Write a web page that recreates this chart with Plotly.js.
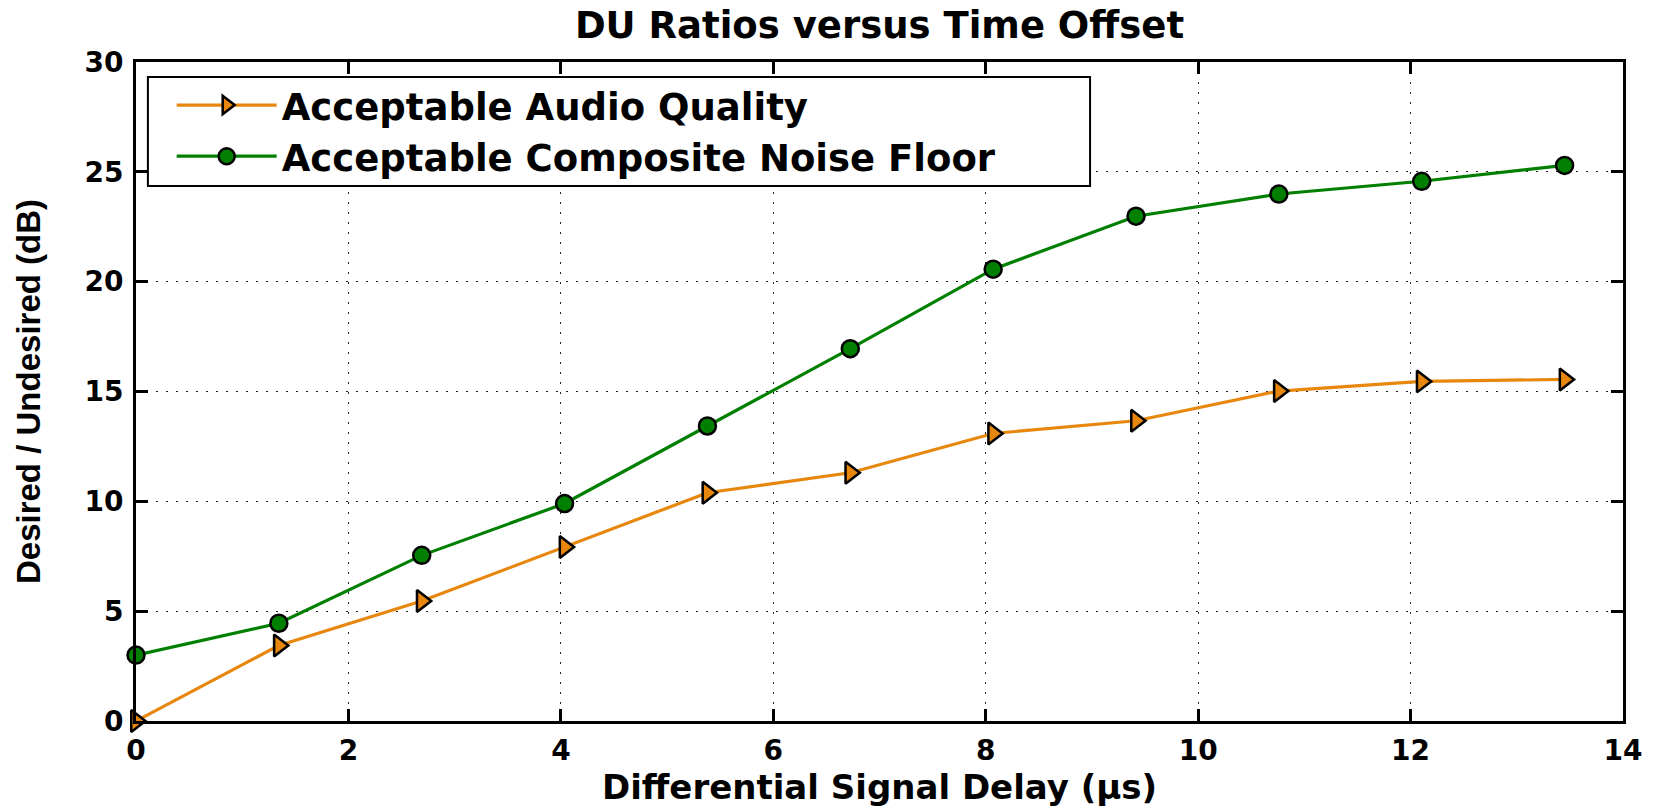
<!DOCTYPE html>
<html>
<head>
<meta charset="utf-8">
<script src="https://cdn.plot.ly/plotly-3.0.1.min.js"></script>
<style>html,body{margin:0;padding:0;background:#fff;}</style>
</head>
<body>
<div id="chart" style="width:1662px;height:807px;"></div>
<script>
// Data
var delayUs = [0, 1.345, 2.69, 4.035, 5.38, 6.725, 8.07, 9.415, 10.76, 12.105, 13.45];
var audioQuality = [0, 3.44, 5.46, 7.92, 10.39, 11.3, 13.09, 13.67, 15.02, 15.46, 15.55];
var compositeNoise = [3.0, 4.45, 7.54, 9.9, 13.43, 16.95, 20.57, 22.98, 23.99, 24.57, 25.29];
var seriesNames = ['Acceptable Audio Quality', 'Acceptable Composite Noise Floor'];
var xTicks = [0, 2, 4, 6, 8, 10, 12, 14];
var yTicks = [0, 5, 10, 15, 20, 25, 30];

var ORANGE = '#E8870E';
var GREEN = '#007F00';
var FONT = 'DejaVu Sans';

var traces = [
  {
    x: delayUs, y: audioQuality, name: seriesNames[0],
    type: 'scatter', mode: 'lines+markers', cliponaxis: false,
    line: {color: ORANGE, width: 3.2},
    marker: {symbol: 'triangle-right', size: 19, color: ORANGE, line: {color: 'black', width: 2.5}}
  },
  {
    x: delayUs, y: compositeNoise, name: seriesNames[1],
    type: 'scatter', mode: 'lines+markers', cliponaxis: false,
    line: {color: GREEN, width: 3.2},
    marker: {symbol: 'circle', size: 17, color: GREEN, line: {color: 'black', width: 2.5}}
  }
];

var axisCommon = {
  showline: true, linewidth: 3, linecolor: 'black', mirror: 'ticks',
  ticks: 'inside', ticklen: 12, tickwidth: 3, tickcolor: 'black',
  showgrid: true, gridcolor: '#222', gridwidth: 1.3, griddash: '1.5px,8.5px',
  zeroline: false,
  tickfont: {family: FONT, size: 28, weight: 'bold', color: 'black'}
};

var layout = {
  width: 1662, height: 807,
  margin: {l: 136, r: 39, t: 62, b: 86, pad: 0},
  paper_bgcolor: 'white', plot_bgcolor: 'white',
  showlegend: true,
  title: {
    text: 'DU Ratios versus Time Offset',
    font: {family: FONT, size: 37, weight: 'bold', color: 'black'},
    xref: 'paper', x: 0.5, xanchor: 'center',
    yref: 'container', y: 0.969, yanchor: 'middle'
  },
  xaxis: Object.assign({}, axisCommon, {
    range: [0, 14], tickvals: xTicks, ticktext: xTicks.map(String),
    ticklabelstandoff: 2,
    title: {text: 'Differential Signal Delay (μs)', standoff: 32,
      font: {family: FONT, size: 34, weight: 'bold', color: 'black'}}
  }),
  yaxis: Object.assign({}, axisCommon, {
    range: [0, 30], tickvals: yTicks, ticktext: yTicks.map(String),
    ticklabelstandoff: 4,
    title: {text: 'Desired / Undesired (dB)', standoff: 34,
      font: {family: 'Liberation Sans', size: 33, weight: 'bold', color: 'black'}}
  }),
  legend: {
    x: 0.024, y: 0.981, xanchor: 'left', yanchor: 'top',
    bgcolor: 'rgba(0,0,0,0)', borderwidth: 0,
    itemwidth: 100,
    font: {family: FONT, size: 37, weight: 'bold', color: 'black'},
    tracegroupgap: 0
  },
  shapes: [{
    type: 'rect', xref: 'paper', yref: 'paper',
    x0: 0.008, x1: 0.6416, y0: 0.8118, y1: 0.9772,
    line: {color: 'black', width: 2}, fillcolor: 'white', layer: 'above'
  }]
};

Plotly.newPlot('chart', traces, layout, {displayModeBar: false, responsive: false});
</script>
</body>
</html>
